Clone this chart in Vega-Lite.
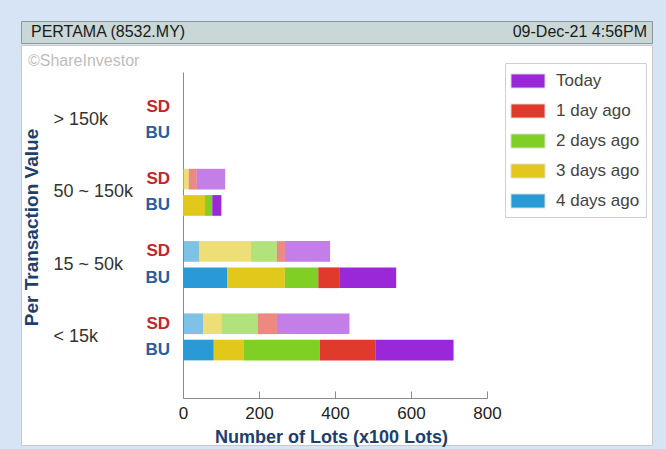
{
  "$schema": "https://vega.github.io/schema/vega-lite/v6.json",
  "background": "#d6e4f5",
  "padding": {"left": 20, "top": 20, "right": 15, "bottom": 3},
  "spacing": 0,
  "config": {"font": "Liberation Sans", "concat": {"spacing": 0}},
  "datasets": {
    "header": [
      {"side": "left", "label": "PERTAMA (8532.MY)"},
      {"side": "right", "label": "09-Dec-21 4:56PM"}
    ],
    "labels": [
      {"group": "> 150k", "type": "SD"}, {"group": "> 150k", "type": "BU"},
      {"group": "50 ~ 150k", "type": "SD"}, {"group": "50 ~ 150k", "type": "BU"},
      {"group": "15 ~ 50k", "type": "SD"}, {"group": "15 ~ 50k", "type": "BU"},
      {"group": "< 15k", "type": "SD"}, {"group": "< 15k", "type": "BU"}
    ],
    "lots": [
      {"group": "50 ~ 150k", "type": "SD", "period": "3 days ago", "daysAgo": 3, "lots": 15},
      {"group": "50 ~ 150k", "type": "SD", "period": "1 day ago", "daysAgo": 1, "lots": 21},
      {"group": "50 ~ 150k", "type": "SD", "period": "Today", "daysAgo": 0, "lots": 75},
      {"group": "50 ~ 150k", "type": "BU", "period": "3 days ago", "daysAgo": 3, "lots": 58},
      {"group": "50 ~ 150k", "type": "BU", "period": "2 days ago", "daysAgo": 2, "lots": 19},
      {"group": "50 ~ 150k", "type": "BU", "period": "Today", "daysAgo": 0, "lots": 24},
      {"group": "15 ~ 50k", "type": "SD", "period": "4 days ago", "daysAgo": 4, "lots": 43},
      {"group": "15 ~ 50k", "type": "SD", "period": "3 days ago", "daysAgo": 3, "lots": 136},
      {"group": "15 ~ 50k", "type": "SD", "period": "2 days ago", "daysAgo": 2, "lots": 68},
      {"group": "15 ~ 50k", "type": "SD", "period": "1 day ago", "daysAgo": 1, "lots": 21},
      {"group": "15 ~ 50k", "type": "SD", "period": "Today", "daysAgo": 0, "lots": 119},
      {"group": "15 ~ 50k", "type": "BU", "period": "4 days ago", "daysAgo": 4, "lots": 116},
      {"group": "15 ~ 50k", "type": "BU", "period": "3 days ago", "daysAgo": 3, "lots": 152},
      {"group": "15 ~ 50k", "type": "BU", "period": "2 days ago", "daysAgo": 2, "lots": 88},
      {"group": "15 ~ 50k", "type": "BU", "period": "1 day ago", "daysAgo": 1, "lots": 55},
      {"group": "15 ~ 50k", "type": "BU", "period": "Today", "daysAgo": 0, "lots": 150},
      {"group": "< 15k", "type": "SD", "period": "4 days ago", "daysAgo": 4, "lots": 53},
      {"group": "< 15k", "type": "SD", "period": "3 days ago", "daysAgo": 3, "lots": 48},
      {"group": "< 15k", "type": "SD", "period": "2 days ago", "daysAgo": 2, "lots": 96},
      {"group": "< 15k", "type": "SD", "period": "1 day ago", "daysAgo": 1, "lots": 50},
      {"group": "< 15k", "type": "SD", "period": "Today", "daysAgo": 0, "lots": 191},
      {"group": "< 15k", "type": "BU", "period": "4 days ago", "daysAgo": 4, "lots": 81},
      {"group": "< 15k", "type": "BU", "period": "3 days ago", "daysAgo": 3, "lots": 78},
      {"group": "< 15k", "type": "BU", "period": "2 days ago", "daysAgo": 2, "lots": 201},
      {"group": "< 15k", "type": "BU", "period": "1 day ago", "daysAgo": 1, "lots": 146},
      {"group": "< 15k", "type": "BU", "period": "Today", "daysAgo": 0, "lots": 206}
    ]
  },
  "vconcat": [
    {
      "width": 631,
      "height": 22,
      "view": {"fill": "#c9d7d6", "stroke": "#8a9898", "strokeWidth": 1},
      "data": {"name": "header"},
      "layer": [
        {
          "transform": [{"filter": "datum.side === 'left'"}],
          "mark": {"type": "text", "align": "left", "baseline": "middle", "fontSize": 16, "color": "#1a1a1a"},
          "encoding": {
            "x": {"field": "side", "type": "nominal", "scale": {"type": "point", "domain": ["left", "right"], "range": [10, 626], "padding": 0}, "axis": null},
            "text": {"field": "label"}
          }
        },
        {
          "transform": [{"filter": "datum.side === 'right'"}],
          "mark": {"type": "text", "align": "right", "baseline": "middle", "fontSize": 16, "color": "#1a1a1a"},
          "encoding": {
            "x": {"field": "side", "type": "nominal", "axis": null},
            "text": {"field": "label"}
          }
        }
      ]
    },
    {
      "width": 631,
      "height": 400,
      "view": {"fill": "white", "stroke": "#c8c8c8"},
      "title": {"text": "©ShareInvestor", "anchor": "start", "frame": "group", "orient": "top", "offset": -32, "dx": 7, "fontSize": 16, "fontWeight": "normal", "color": "#bdbdbd", "baseline": "middle"},
      "layer": [
        {
          "data": {"name": "lots"},
          "mark": {"type": "bar"},
          "encoding": {
            "y": {
              "field": "group", "type": "nominal",
              "scale": {"domain": ["> 150k", "50 ~ 150k", "15 ~ 50k", "< 15k"], "range": [27, 353], "paddingInner": 0, "paddingOuter": 0.2545, "align": 0.322},
              "axis": {"orient": "left", "offset": -162, "ticks": false, "domainColor": "#8a8a8a", "labelPadding": 130, "labelAlign": "left", "labelBaseline": "middle", "labelFontSize": 18, "labelColor": "#333333", "title": "Per Transaction Value", "titleFontSize": 19, "titleFontWeight": "bold", "titleColor": "#1c3f6e", "titleX": -152, "titleY": 182, "titleAngle": -90, "titleAlign": "center", "titleBaseline": "middle"}
            },
            "yOffset": {"field": "type", "type": "nominal", "scale": {"domain": ["SD", "BU"], "paddingInner": 0.213, "paddingOuter": 0.481}},
            "x": {
              "field": "lots", "type": "quantitative", "stack": "zero",
              "scale": {"domain": [0, 800], "range": [162, 466], "nice": false},
              "axis": {"values": [0, 200, 400, 600, 800], "offset": -47, "grid": false, "domainColor": "#8a8a8a", "tickColor": "#8a8a8a", "tickSize": -7, "labelPadding": 14, "labelFlush": false, "labelFontSize": 17, "labelColor": "#222222", "format": "d", "title": "Number of Lots (x100 Lots)", "titleFontSize": 18, "titleFontWeight": "bold", "titleColor": "#1c3f6e", "titleX": 310, "titleY": 39, "titleAlign": "center", "titleBaseline": "middle"}
            },
            "color": {
              "field": "period", "type": "nominal",
              "scale": {"domain": ["Today", "1 day ago", "2 days ago", "3 days ago", "4 days ago"], "range": ["#9b28d8", "#e03a2c", "#7fcf25", "#e3c81c", "#2a9ad6"]},
              "legend": {"orient": "none", "legendX": 484, "legendY": 42, "title": null, "direction": "vertical", "symbolType": "M-1.5,-0.62H1.5V0.62H-1.5Z", "symbolSize": 515, "symbolStrokeColor": "#dddddd", "symbolStrokeWidth": 1, "symbolOpacity": 1, "symbolOffset": 5, "labelOffset": 16, "labelFontSize": 17, "labelColor": "#444444", "rowPadding": 8, "padding": 6, "fillColor": "white", "strokeColor": "#d0d0d0"}
            },
            "order": {"field": "daysAgo", "type": "quantitative", "sort": "descending"},
            "opacity": {"field": "type", "type": "nominal", "scale": {"domain": ["SD", "BU"], "range": [0.6, 1]}, "legend": null}
          }
        },
        {
          "data": {"name": "labels"},
          "mark": {"type": "text", "align": "right", "baseline": "middle", "dx": -13, "fontSize": 17, "fontWeight": "bold"},
          "encoding": {
            "y": {"field": "group", "type": "nominal"},
            "yOffset": {"field": "type", "type": "nominal"},
            "x": {"datum": 0, "type": "quantitative"},
            "text": {"field": "type"},
            "color": {"condition": {"test": "datum.type === 'SD'", "value": "#c0272d"}, "value": "#2b5c9e"}
          }
        }
      ]
    }
  ]
}
